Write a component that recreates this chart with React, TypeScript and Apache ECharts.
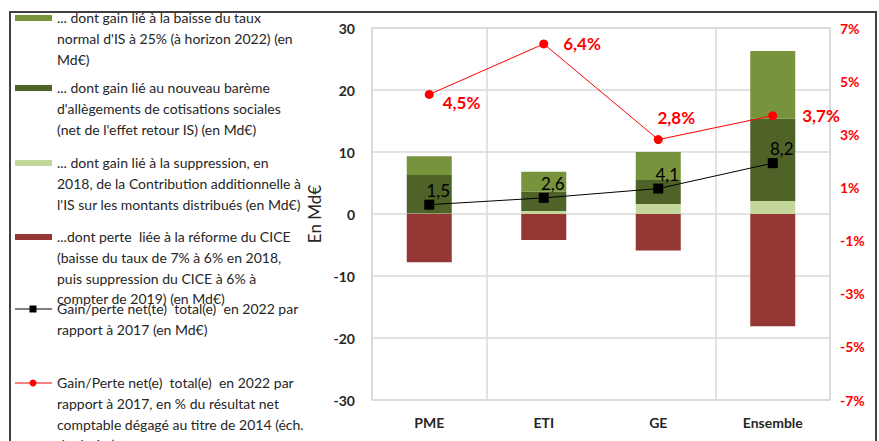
import React, { useEffect, useRef } from "react";
import * as echarts from "echarts";

const categories = ["PME", "ETI", "GE", "Ensemble"];
const gainSuppressionCA = [0.1, 0.5, 1.6, 2.1];
const gainCotisations = [6.2, 3.1, 3.9, 13.3];
const gainTauxIS = [3.0, 3.2, 4.5, 10.9];
const perteCICE = [-7.8, -4.2, -5.9, -18.1];
const netMd = [1.5, 2.6, 4.1, 8.2];
const netPct = [4.5, 6.4, 2.8, 3.7];
const leftTicks = [-30, -20, -10, 0, 10, 20, 30];
const rightTicks = [-7, -5, -3, -1, 1, 3, 5, 7];

const legendItems = [
  ["... dont gain lié à la baisse du taux", "normal d'IS à 25% (à horizon 2022) (en", "Md€)"],
  ["... dont gain lié au nouveau barème", "d'allègements de cotisations sociales", "(net de l'effet retour IS) (en Md€)"],
  ["... dont gain lié à la suppression, en", "2018, de la Contribution additionnelle à", "l'IS sur les montants distribués (en Md€)"],
  ["...dont perte  liée à la réforme du CICE", "(baisse du taux de 7% à 6% en 2018,", "puis suppression du CICE à 6% à", "compter de 2019) (en Md€)"],
  ["Gain/perte net(te)  total(e)  en 2022 par", "rapport à 2017 (en Md€)"],
  ["Gain/Perte net(e)  total(e)  en 2022 par", "rapport à 2017, en % du résultat net", "comptable dégagé au titre de 2014 (éch.", "de droite)"],
];

const C_IS = "#77933C";
const C_COT = "#4F6228";
const C_SUP = "#C3D69B";
const C_CICE = "#953735";
const C_RED = "#FF0000";
const FONT = "Lato, 'Open Sans', sans-serif";

export default function App() {
  const ref = useRef<HTMLDivElement>(null);
  useEffect(() => {
    document.body.style.margin = "0";
    const chart = echarts.init(ref.current!, null, { renderer: "svg" });
    const fmt = (v: number) => String(v).replace(".", ",");
    const legendCenters = [18, 88, 163, 237, 309, 383];
    const swatchColors = [C_IS, C_COT, C_SUP, C_CICE];
    const graphics: any[] = [
      {
        type: "rect",
        z: 100,
        shape: { x: 10, y: 12, width: 866, height: 460 },
        style: { fill: "none", stroke: "#404040", lineWidth: 2 },
      },
    ];
    legendItems.forEach((lines, i) => {
      const cy = legendCenters[i];
      if (i < 4) {
        graphics.push({
          type: "rect",
          shape: { x: 15, y: cy - 3, width: 37, height: 6 },
          style: { fill: swatchColors[i] },
        });
      } else if (i === 4) {
        graphics.push({ type: "line", shape: { x1: 15, y1: cy, x2: 52, y2: cy }, style: { stroke: "#000", lineWidth: 1 } });
        graphics.push({ type: "rect", shape: { x: 29.5, y: cy - 3.5, width: 7, height: 7 }, style: { fill: "#000" } });
      } else {
        graphics.push({ type: "line", shape: { x1: 15, y1: cy, x2: 52, y2: cy }, style: { stroke: C_RED, lineWidth: 1 } });
        graphics.push({ type: "circle", shape: { cx: 33, cy, r: 3.5 }, style: { fill: C_RED } });
      }
      graphics.push({
        type: "text",
        x: 57,
        y: cy - 10.3,
        style: {
          text: lines.join("\n"),
          font: `14px ${FONT}`,
          fill: "#262626",
          lineHeight: 20.6,
          verticalAlign: "top",
        },
      });
    });

    const redLabelCfg = [
      { position: "right", offset: [4, 8] },
      { position: "right", offset: [10, 0] },
      { position: "top", offset: [18, -4] },
      { position: "right", offset: [20, 0] },
    ];

    chart.setOption({
      animation: false,
      graphic: graphics,
      grid: {
        left: 372, right: 49, top: 28, bottom: 41, containLabel: false,
        show: true, borderColor: "#D9D9D9", borderWidth: 1.5,
      },
      xAxis: {
        type: "category",
        data: categories,
        axisLine: { show: false },
        axisTick: { show: false },
        axisLabel: { fontFamily: FONT, fontWeight: "bold", fontSize: 14, color: "#262626", margin: 15 },
        splitLine: {
          show: true,
          interval: (index: number) => index !== 2,
          lineStyle: { color: "#D9D9D9", width: 1.5 },
        },
      },
      yAxis: [
        {
          type: "value",
          min: -30,
          max: 30,
          interval: 10,
          name: "En Md€",
          nameLocation: "middle",
          nameGap: 48,
          nameTextStyle: { fontFamily: FONT, fontSize: 17, color: "#262626" },
          axisLine: { show: false },
          axisTick: { show: false },
          axisLabel: {
            fontFamily: FONT, fontWeight: "bold", fontSize: 14, color: "#262626", margin: 17,
            formatter: (v: number) => (leftTicks.includes(v) ? String(v) : ""),
          },
          splitLine: { show: true, lineStyle: { color: "#D9D9D9", width: 1.5 } },
        },
        {
          type: "value",
          min: -7,
          max: 7,
          interval: 2,
          axisLine: { show: false },
          axisTick: { show: false },
          splitLine: { show: false },
          axisLabel: {
            fontFamily: FONT,
            fontWeight: "bold",
            fontSize: 14,
            color: C_RED,
            margin: 10,
            formatter: (v: number) => (rightTicks.includes(v) ? `${v}%` : ""),
          },
        },
      ],
      series: [
        { name: "suppression CA", type: "bar", stack: "s", data: gainSuppressionCA, barWidth: 45, itemStyle: { color: C_SUP } },
        { name: "cotisations", type: "bar", stack: "s", data: gainCotisations, itemStyle: { color: C_COT } },
        { name: "taux IS", type: "bar", stack: "s", data: gainTauxIS, itemStyle: { color: C_IS } },
        { name: "CICE", type: "bar", stack: "s", data: perteCICE, itemStyle: { color: C_CICE } },
        {
          name: "net Md",
          type: "line",
          data: netMd,
          symbol: "rect",
          symbolSize: 10,
          z: 5,
          itemStyle: { color: "#000" },
          lineStyle: { color: "#000", width: 1 },
          label: {
            show: true,
            position: "top",
            offset: [9, 4],
            fontFamily: FONT,
            fontSize: 17,
            color: "#000",
            formatter: (p: any) => fmt(p.value),
          },
        },
        {
          name: "net %",
          type: "line",
          yAxisIndex: 1,
          data: netPct.map((v, i) => ({ value: v, label: redLabelCfg[i] })),
          symbol: "circle",
          symbolSize: 9,
          z: 6,
          itemStyle: { color: C_RED },
          lineStyle: { color: C_RED, width: 1 },
          label: {
            show: true,
            fontFamily: FONT,
            fontWeight: "bold",
            fontSize: 17,
            color: C_RED,
            formatter: (p: any) => `${fmt(p.value)}%`,
          },
        },
      ],
    });
    return () => chart.dispose();
  }, []);
  return <div ref={ref} style={{ width: 879, height: 441 }} />;
}
